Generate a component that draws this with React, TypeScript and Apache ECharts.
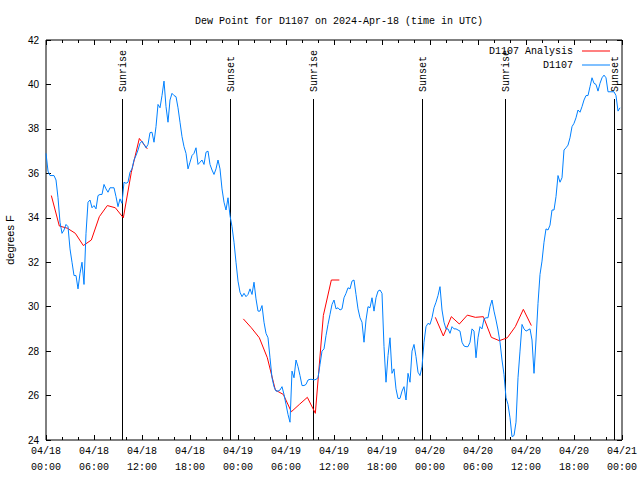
import React, { useEffect, useRef } from "react";
import * as echarts from "echarts";

const HOUR = 3600 * 1000;
const startTime = Date.UTC(2024, 3, 18, 0, 0);
const endTime = Date.UTC(2024, 3, 21, 0, 0);

const titleText = "Dew Point for D1107 on 2024-Apr-18 (time in UTC)";
const obsName = "D1107";
const analysisName = "D1107 Analysis";
const yName = "degrees F";
const yMin = 24;
const yMax = 42;
const yStep = 2;

// Observed dew point, one value every 15 minutes from 04/18 00:00 UTC
const obsStepMinutes = 15;
const obsValues = [
  36.9, 36.1, 35.9, 35.9, 35.9, 35.7, 34.9, 33.8, 33.3, 33.45,
  33.7, 33.6, 32.6, 32.0, 31.4, 31.4, 30.8, 31.5, 32.0, 31.0,
  33.3, 34.7, 34.8, 34.45, 34.55, 34.4, 35.0, 35.05, 35.05, 35.5,
  35.3, 35.15, 35.35, 35.35, 35.35, 34.95, 34.5, 34.85, 34.65,
  35.6, 35.55, 35.6, 36.05, 36.2, 36.6, 36.8, 37.05, 37.35, 37.45,
  37.3, 37.15, 37.3, 37.83, 37.85, 37.4, 38.1, 39.1, 38.95, 39.5,
  40.15, 39.0, 38.3, 39.3, 39.6, 39.5, 39.45, 38.95, 38.3, 37.65,
  37.2, 36.9, 36.2, 36.5, 36.8, 36.9, 37.15, 36.4, 36.5, 36.6,
  36.4, 36.95, 37.0, 36.4, 36.15, 35.95, 36.2, 36.6, 36.2, 35.3,
  34.7, 34.35, 34.9, 34.1,
  33.6, 32.9, 32.0, 31.15, 30.65, 30.45, 30.6,
  30.45, 30.55, 30.8, 30.55, 31.1, 30.35, 29.8, 29.8, 30.05, 29.3,
  28.8, 28.6, 27.7, 26.8, 26.4, 26.2, 26.2, 26.25, 26.4, 26.05,
  25.6, 25.15, 24.8, 27.1, 26.8, 27.6, 27.3, 26.9, 26.45, 26.45,
  26.5, 26.7, 26.73, 26.73, 26.7, 26.73, 26.8, 27.4, 28.0, 28.1,
  28.7, 29.2, 29.65, 30.1, 30.3, 29.9, 29.95, 29.85, 29.9, 30.4,
  30.6, 30.85, 30.8, 31.15, 31.2, 30.55, 29.9, 29.5, 29.3, 28.4,
  29.4, 30.0, 29.95, 30.4, 29.8, 30.4, 30.7, 30.75, 30.6, 28.2,
  26.6, 27.8, 28.6, 27.0, 27.2, 26.3, 25.87, 25.87, 26.2, 26.4,
  25.8, 27.0, 26.6, 28.0, 28.3, 27.75, 27.05,
  26.9, 27.3, 28.4,
  29.1, 29.25, 29.2, 29.5, 29.95, 30.2, 30.5, 30.9, 29.85, 29.3,
  29.0, 29.0, 28.8, 29.1, 29.0, 29.0, 28.95, 28.9, 28.4, 28.23,
  28.2, 28.2, 28.4, 29.0, 28.9, 27.7, 28.6, 29.1, 29.0, 29.45,
  29.5, 29.5, 30.0, 30.3, 29.8, 29.4, 28.95, 28.4, 27.6, 26.95,
  25.9,
  25.6, 25.0, 24.15, 24.2, 24.8, 26.8, 28.0, 29.2, 29.0,
  28.9, 28.95, 29.0, 28.5, 27.0, 28.5, 30.15, 31.45, 32.05, 32.9,
  33.5, 33.45, 33.67, 34.35, 34.35, 34.95, 35.9, 35.6, 35.8, 37.05,
  37.15, 37.27, 37.6, 38.1, 38.25, 38.5, 38.85, 38.75, 39.0, 39.3,
  39.5, 39.5, 39.9, 40.3, 40.05, 40.0, 39.7, 40.05, 40.3, 40.42,
  40.3, 39.67, 39.67, 39.67, 39.67, 39.5, 38.8, 38.95,
];

// Analysis, hourly values starting at 00:40 UTC each day
const analysisStarts = ["2024-04-18T00:40:00Z", "2024-04-19T00:40:00Z", "2024-04-20T00:40:00Z"];
const analysisDay1 = [35.0, 33.63, 33.53, 33.3, 32.75, 33.0, 34.05, 34.55, 34.45, 34.0, 36.05, 37.57, 37.1];
const analysisDay2 = [29.45, 29.05, 28.6, 27.7, 26.25, 26.05, 25.27, 25.6, 25.92, 25.2, 29.6, 31.2, 31.2];
const analysisDay3 = [29.52, 28.68, 29.55, 29.22, 29.62, 29.52, 29.55, 28.62, 28.47, 28.6, 29.1, 29.88, 29.15];

const sunEventTimes = [
  "2024-04-18T09:31:00Z",
  "2024-04-18T23:02:00Z",
  "2024-04-19T09:22:00Z",
  "2024-04-19T23:00:00Z",
  "2024-04-20T09:24:00Z",
  "2024-04-20T23:00:00Z",
];
const sunEventLabels = ["Sunrise", "Sunset", "Sunrise", "Sunset", "Sunrise", "Sunset"];

const MONO = '"Liberation Mono", "DejaVu Sans Mono", monospace';
const SANS = '"Liberation Sans", Arial, sans-serif';

const pad = (n: number) => String(n).padStart(2, "0");

export default function App() {
  const ref = useRef<HTMLDivElement>(null);

  useEffect(() => {
    document.body.style.margin = "0";
    if (!ref.current) return;
    const chart = echarts.init(ref.current, null, { renderer: "svg" });

    const obsData = obsValues.map((v, i) => [startTime + i * obsStepMinutes * 60 * 1000, v]);
    const analysisData: any[] = [];
    [analysisDay1, analysisDay2, analysisDay3].forEach((arr, d) => {
      const s = Date.parse(analysisStarts[d]);
      arr.forEach((v, k) => analysisData.push([s + k * HOUR, v]));
      analysisData.push([s + arr.length * HOUR, null]);
    });
    const sunData = sunEventTimes.map((s) => [Date.parse(s), yMin]);

    const xAxisCommon = {
      type: "value" as const,
      min: startTime,
      max: endTime,
      interval: 6 * HOUR,
      splitLine: { show: false },
      axisLine: { show: false },
      axisTick: { show: true, inside: true, length: 5, lineStyle: { color: "#000", width: 1 } },
      minorTick: { show: true, splitNumber: 3, length: 3, lineStyle: { color: "#000", width: 1 } },
      minorSplitLine: { show: false },
    };
    const yAxisCommon = {
      type: "value" as const,
      min: yMin,
      max: yMax,
      interval: yStep,
      splitLine: { show: false },
      axisLine: { show: false },
      axisTick: { show: true, inside: true, length: 5, lineStyle: { color: "#000", width: 1 } },
    };

    chart.setOption({
      animation: false,
      backgroundColor: "#fff",
      title: {
        text: titleText,
        left: 334,
        top: 11,
        textAlign: "center",
        textStyle: { fontFamily: MONO, fontSize: 10, fontWeight: "normal", color: "#000" },
      },
      legend: {
        data: [analysisName, obsName],
        orient: "vertical",
        right: 25,
        top: 40,
        align: "right",
        icon: "rect",
        itemWidth: 28,
        itemHeight: 1,
        itemGap: 2,
        selectedMode: false,
        textStyle: { fontFamily: MONO, fontSize: 10, color: "#000", lineHeight: 12, padding: [0, 4, 0, 0] },
      },
      grid: {
        left: 46,
        right: 18,
        top: 40,
        bottom: 40,
        show: true,
        borderColor: "#000",
        borderWidth: 1,
        backgroundColor: "transparent",
        containLabel: false,
        outerBoundsMode: "none",
      },
      xAxis: [
        {
          ...xAxisCommon,
          position: "bottom",
          axisLabel: {
            show: true,
            margin: 6,
            color: "#000",
            fontFamily: MONO,
            fontSize: 10,
            showMinLabel: true,
            showMaxLabel: true,
            formatter: (v: number) => {
              const d = new Date(v);
              return `{d|${pad(d.getUTCMonth() + 1)}/${pad(d.getUTCDate())}}\n{t|${pad(d.getUTCHours())}:${pad(d.getUTCMinutes())}}`;
            },
            rich: {
              d: { fontFamily: MONO, fontSize: 10, color: "#000", lineHeight: 10 },
              t: { fontFamily: MONO, fontSize: 10, color: "#000", lineHeight: 22 },
            },
          },
        },
        { ...xAxisCommon, position: "top", axisLabel: { show: false } },
      ],
      yAxis: [
        {
          ...yAxisCommon,
          position: "left",
          name: yName,
          nameLocation: "middle",
          nameRotate: 90,
          nameGap: 31,
          nameTextStyle: { fontFamily: SANS, fontSize: 11, color: "#000" },
          axisLabel: { margin: 7, color: "#000", fontFamily: SANS, fontSize: 10, lineHeight: 8 },
        },
        { ...yAxisCommon, position: "right", axisLabel: { show: false } },
      ],
      series: [
        {
          type: "custom",
          name: "sun",
          xAxisIndex: 0,
          yAxisIndex: 0,
          silent: true,
          data: sunData,
          encode: { x: 0, y: 1 },
          renderItem: (params: any, api: any) => {
            const t = api.value(0);
            const p = api.coord([t, yMin]);
            const cs = params.coordSys;
            const x = Math.round(p[0]) + 0.5;
            const lineTop = cs.y + 59;
            const bottom = cs.y + cs.height;
            return {
              type: "group",
              children: [
                {
                  type: "line",
                  shape: { x1: x, y1: lineTop, x2: x, y2: bottom },
                  style: { stroke: "#000", lineWidth: 1 },
                },
                {
                  type: "text",
                  x: x + 0.5,
                  y: lineTop - 7,
                  rotation: Math.PI / 2,
                  style: {
                    text: sunEventLabels[params.dataIndex],
                    fill: "#000",
                    font: `10px ${MONO}`,
                    align: "left",
                    verticalAlign: "middle",
                  },
                },
              ],
            };
          },
        },
        {
          type: "line",
          name: analysisName,
          data: analysisData,
          showSymbol: false,
          connectNulls: false,
          color: "#ff0000",
          lineStyle: { color: "#ff0000", width: 1 },
        },
        {
          type: "line",
          name: obsName,
          data: obsData,
          showSymbol: false,
          color: "#0080ff",
          lineStyle: { color: "#0080ff", width: 1 },
        },
      ],
    });

    return () => chart.dispose();
  }, []);

  return (
    <div
      ref={ref}
      style={{ position: "absolute", left: 0, top: 0, width: 640, height: 480, background: "#fff" }}
    />
  );
}
